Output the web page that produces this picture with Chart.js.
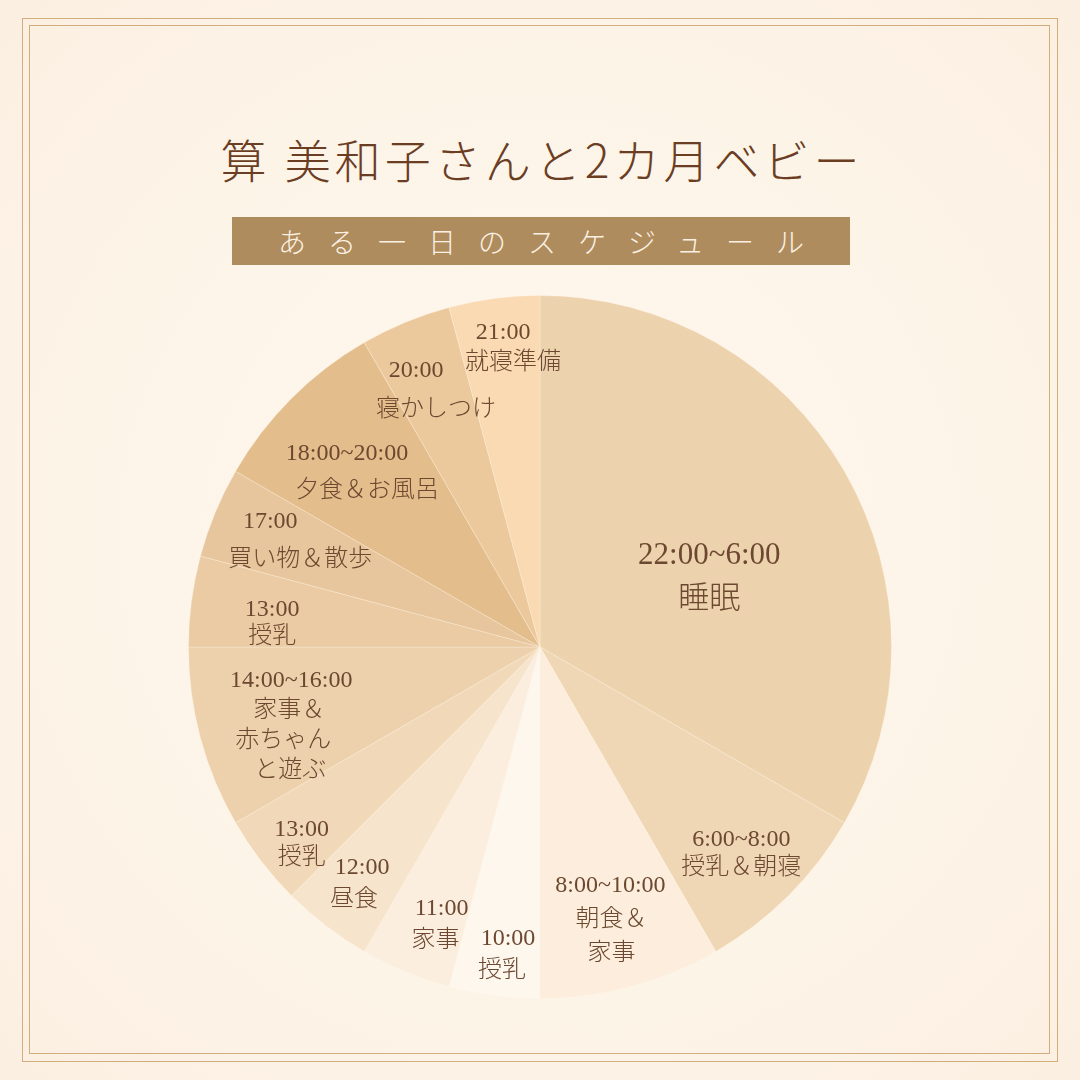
<!DOCTYPE html>
<html lang="ja">
<head>
<meta charset="utf-8">
<script src="https://cdn.jsdelivr.net/npm/chart.js@4/dist/chart.umd.min.js"></script>
<style>
  html, body { margin: 0; padding: 0; }
  body { width: 1080px; height: 1080px; position: relative; overflow: hidden;
         background: radial-gradient(ellipse at 50% 50%, #FFF8EF 0%, #FDF4E8 60%, #FBEFE1 100%); }
  .frame { position: absolute; border: 1.5px solid #D4AD7E; box-sizing: border-box; }
  #outer { left: 22px; top: 18px; width: 1036px; height: 1044px; }
  #inner { left: 29px; top: 25px; width: 1021px; height: 1029px; border-width: 1.2px; }
  #title { position: absolute; left: 0; width: 1080px; top: 128px; text-align: center;
           font-family: "Noto Sans CJK JP", sans-serif; font-size: 46px; font-weight: 300;
           letter-spacing: 4px; text-indent: 4px; color: #6B3D22; line-height: 60px; }
  #sub { position: absolute; left: 232px; top: 217px; width: 618px; height: 48px;
         background: #AF8C5D; color: #FBF1E3; text-align: center;
         font-family: "Noto Sans CJK JP", sans-serif; font-size: 28px; font-weight: 300;
         line-height: 48px; letter-spacing: 22px; text-indent: 22px; }
  #wrap { position: absolute; left: 0; top: 0; width: 1080px; height: 1080px; }
</style>
</head>
<body>
<div class="frame" id="outer"></div>
<div class="frame" id="inner"></div>
<div id="title">算 美和子さんと2カ月ベビー</div>
<div id="sub">ある一日のスケジュール</div>
<div id="wrap"><canvas id="c" width="1080" height="1080"></canvas></div>
<script>
// ---- data ----
const times = ['22:00~6:00','6:00~8:00','8:00~10:00','10:00','11:00','12:00','13:00','14:00~16:00','13:00','17:00','18:00~20:00','20:00','21:00'];
const activities = [['睡眠'],['授乳＆朝寝'],['朝食＆','家事'],['授乳'],['家事'],['昼食'],['授乳'],['家事＆','赤ちゃん','と遊ぶ'],['授乳'],['買い物＆散歩'],['夕食＆お風呂'],['寝かしつけ'],['就寝準備']];
const hours = [8,2,2,1,1,1,1,2,1,1,2,1,1];

// ---- styles ----
const sliceColors = ['#EDD2AE','#EFD6B5','#FCEDDC','#FEF7EE','#FBEEDF','#F6E4CC','#F0D8B8','#EDD1AD','#EACBA4','#E8C69D','#E3BD8B','#EBC99D','#F9DAB2'];
const labelAngleOffset = [7.9,0.7,0.5,-1,-2.4,0,-2.1,-2.5,-2.5,0.1,-1.3,-1.4,1.4];
const labelRadius = [0.52,0.82,0.80,0.88,0.84,0.85,0.88,0.745,0.765,0.785,0.72,0.80,0.855];
const labelGap = [44,28,34,32,32,32,28,30,27,38,37,39,30];
const labelLineDx = [[0,0],[0,0],[0,1,1],[3,-3],[3,-3],[4,-4],[0,0],[1,-1,-7,0],[0,0],[-15,15],[-10,10],[-10,10],[-5,5]];
const labelSize = [31,24,24,24,24,24,24,24,24,24,24,24,24];

const labelPlugin = {
  id: 'sliceLabels',
  afterDatasetsDraw(chart) {
    const ctx = chart.ctx;
    const meta = chart.getDatasetMeta(0);
    meta.data.forEach((arc, i) => {
      const p = arc.getProps(['x','y','startAngle','endAngle','outerRadius'], true);
      const mid = (p.startAngle + p.endAngle) / 2 + labelAngleOffset[i] * Math.PI / 180;
      const rr = p.outerRadius * labelRadius[i];
      const cx = p.x + Math.cos(mid) * rr;
      const cy = p.y + Math.sin(mid) * rr;
      const lines = [times[i]].concat(activities[i]);
      const gap = labelGap[i];
      const y0 = cy - gap * (lines.length - 1) / 2;
      ctx.save();
      ctx.fillStyle = '#6C4830';
      ctx.textAlign = 'center';
      ctx.textBaseline = 'middle';
      ctx.font = '300 ' + labelSize[i] + 'px "Liberation Serif", "DejaVu Serif", "Noto Sans CJK JP", serif';
      lines.forEach((t, k) => {
        const dx = (labelLineDx[i] && labelLineDx[i][k]) || 0;
        ctx.fillText(t, cx + dx, y0 + gap * k);
      });
      ctx.restore();
    });
  }
};

new Chart(document.getElementById('c'), {
  type: 'pie',
  data: {
    labels: times,
    datasets: [{
      data: hours,
      backgroundColor: sliceColors,
      borderColor: 'rgba(255,244,230,0.3)',
      borderWidth: 1
    }]
  },
  options: {
    responsive: false,
    animation: false,
    layout: { padding: { top: 295, bottom: 81, left: 188, right: 188 } },
    plugins: { legend: { display: false }, tooltip: { enabled: false }, title: { display: false } }
  },
  plugins: [labelPlugin]
});
</script>
</body>
</html>
